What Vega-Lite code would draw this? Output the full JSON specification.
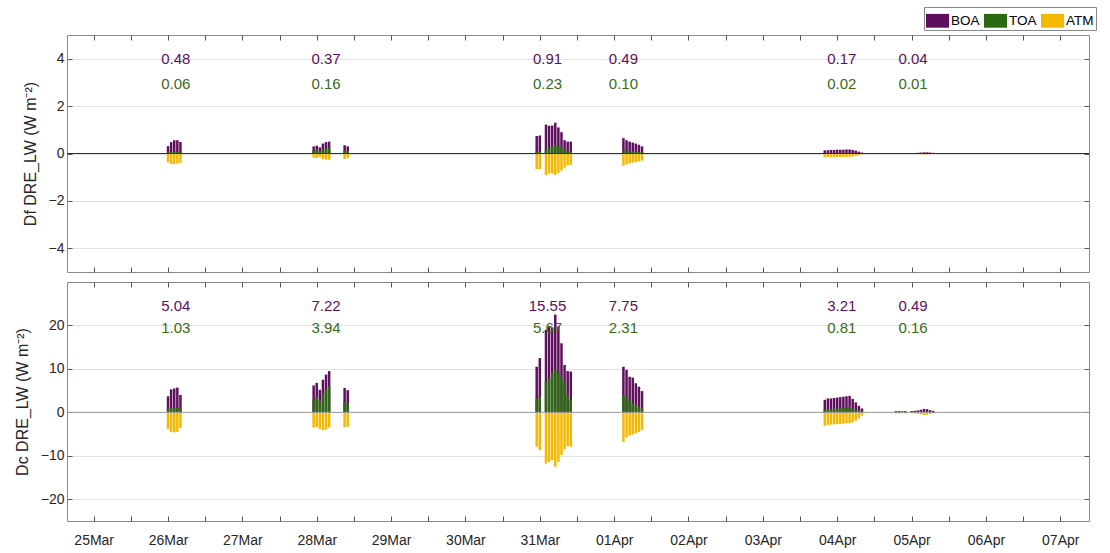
{
"$schema": "https://vega.github.io/schema/vega-lite/v6.json",
"padding": {"left": 13, "top": 6, "right": 2, "bottom": 4},
"background": "white",
"spacing": 8,
"config": {
  "font": "Liberation Sans",
  "view": {"stroke": "#8a8a8a", "strokeWidth": 1},
  "axis": {"domain": false, "labelFontSize": 14, "labelColor": "#262626", "tickColor": "#555", "gridColor": "#e3e3e3", "titleFontWeight": "normal", "titleFontSize": 16, "titleColor": "#262626"}
},
"datasets": {
  "bars": [
    {"p":"Df","t":"2021-03-26T00:00:00Z","BOA":0.31,"TOA":0.05,"ATM":-0.37},
    {"p":"Df","t":"2021-03-26T01:00:00Z","BOA":0.48,"TOA":0.06,"ATM":-0.44},
    {"p":"Df","t":"2021-03-26T02:00:00Z","BOA":0.56,"TOA":0.07,"ATM":-0.45},
    {"p":"Df","t":"2021-03-26T03:00:00Z","BOA":0.56,"TOA":0.07,"ATM":-0.43},
    {"p":"Df","t":"2021-03-26T04:00:00Z","BOA":0.49,"TOA":0.06,"ATM":-0.39},
    {"p":"Df","t":"2021-03-27T23:00:00Z","BOA":0.30,"TOA":0.12,"ATM":-0.18},
    {"p":"Df","t":"2021-03-28T00:00:00Z","BOA":0.33,"TOA":0.14,"ATM":-0.19},
    {"p":"Df","t":"2021-03-28T01:00:00Z","BOA":0.26,"TOA":0.10,"ATM":-0.16},
    {"p":"Df","t":"2021-03-28T02:00:00Z","BOA":0.42,"TOA":0.18,"ATM":-0.24},
    {"p":"Df","t":"2021-03-28T03:00:00Z","BOA":0.48,"TOA":0.22,"ATM":-0.26},
    {"p":"Df","t":"2021-03-28T04:00:00Z","BOA":0.50,"TOA":0.24,"ATM":-0.26},
    {"p":"Df","t":"2021-03-28T09:00:00Z","BOA":0.35,"TOA":0.12,"ATM":-0.23},
    {"p":"Df","t":"2021-03-28T10:00:00Z","BOA":0.30,"TOA":0.10,"ATM":-0.20},
    {"p":"Df","t":"2021-03-30T23:00:00Z","BOA":0.74,"TOA":0.08,"ATM":-0.66},
    {"p":"Df","t":"2021-03-31T00:00:00Z","BOA":0.76,"TOA":0.10,"ATM":-0.66},
    {"p":"Df","t":"2021-03-31T02:00:00Z","BOA":1.22,"TOA":0.18,"ATM":-0.92},
    {"p":"Df","t":"2021-03-31T03:00:00Z","BOA":1.17,"TOA":0.24,"ATM":-0.85},
    {"p":"Df","t":"2021-03-31T04:00:00Z","BOA":1.18,"TOA":0.30,"ATM":-0.84},
    {"p":"Df","t":"2021-03-31T05:00:00Z","BOA":1.30,"TOA":0.36,"ATM":-0.90},
    {"p":"Df","t":"2021-03-31T06:00:00Z","BOA":1.10,"TOA":0.32,"ATM":-0.82},
    {"p":"Df","t":"2021-03-31T07:00:00Z","BOA":0.90,"TOA":0.24,"ATM":-0.72},
    {"p":"Df","t":"2021-03-31T08:00:00Z","BOA":0.56,"TOA":0.16,"ATM":-0.60},
    {"p":"Df","t":"2021-03-31T09:00:00Z","BOA":0.50,"TOA":0.10,"ATM":-0.50},
    {"p":"Df","t":"2021-03-31T10:00:00Z","BOA":0.50,"TOA":0.08,"ATM":-0.48},
    {"p":"Df","t":"2021-04-01T03:00:00Z","BOA":0.65,"TOA":0.13,"ATM":-0.52},
    {"p":"Df","t":"2021-04-01T04:00:00Z","BOA":0.56,"TOA":0.11,"ATM":-0.45},
    {"p":"Df","t":"2021-04-01T05:00:00Z","BOA":0.50,"TOA":0.10,"ATM":-0.42},
    {"p":"Df","t":"2021-04-01T06:00:00Z","BOA":0.46,"TOA":0.09,"ATM":-0.39},
    {"p":"Df","t":"2021-04-01T07:00:00Z","BOA":0.42,"TOA":0.08,"ATM":-0.37},
    {"p":"Df","t":"2021-04-01T08:00:00Z","BOA":0.37,"TOA":0.07,"ATM":-0.33},
    {"p":"Df","t":"2021-04-01T09:00:00Z","BOA":0.30,"TOA":0.05,"ATM":-0.30},
    {"p":"Df","t":"2021-04-03T20:00:00Z","BOA":0.13,"TOA":0.02,"ATM":-0.16},
    {"p":"Df","t":"2021-04-03T21:00:00Z","BOA":0.14,"TOA":0.02,"ATM":-0.15},
    {"p":"Df","t":"2021-04-03T22:00:00Z","BOA":0.15,"TOA":0.02,"ATM":-0.15},
    {"p":"Df","t":"2021-04-03T23:00:00Z","BOA":0.15,"TOA":0.02,"ATM":-0.15},
    {"p":"Df","t":"2021-04-04T00:00:00Z","BOA":0.16,"TOA":0.02,"ATM":-0.15},
    {"p":"Df","t":"2021-04-04T01:00:00Z","BOA":0.16,"TOA":0.02,"ATM":-0.15},
    {"p":"Df","t":"2021-04-04T02:00:00Z","BOA":0.16,"TOA":0.03,"ATM":-0.15},
    {"p":"Df","t":"2021-04-04T03:00:00Z","BOA":0.17,"TOA":0.03,"ATM":-0.15},
    {"p":"Df","t":"2021-04-04T04:00:00Z","BOA":0.17,"TOA":0.03,"ATM":-0.14},
    {"p":"Df","t":"2021-04-04T05:00:00Z","BOA":0.15,"TOA":0.02,"ATM":-0.13},
    {"p":"Df","t":"2021-04-04T06:00:00Z","BOA":0.12,"TOA":0.02,"ATM":-0.10},
    {"p":"Df","t":"2021-04-04T07:00:00Z","BOA":0.08,"TOA":0.01,"ATM":-0.07},
    {"p":"Df","t":"2021-04-04T08:00:00Z","BOA":0.04,"TOA":0.01,"ATM":-0.03},
    {"p":"Df","t":"2021-04-04T19:00:00Z","BOA":0.01,"TOA":0.0,"ATM":-0.01},
    {"p":"Df","t":"2021-04-04T20:00:00Z","BOA":0.01,"TOA":0.0,"ATM":-0.01},
    {"p":"Df","t":"2021-04-04T21:00:00Z","BOA":0.01,"TOA":0.0,"ATM":-0.01},
    {"p":"Df","t":"2021-04-04T22:00:00Z","BOA":0.01,"TOA":0.0,"ATM":-0.01},
    {"p":"Df","t":"2021-04-05T00:00:00Z","BOA":0.02,"TOA":0.005,"ATM":-0.015},
    {"p":"Df","t":"2021-04-05T01:00:00Z","BOA":0.02,"TOA":0.005,"ATM":-0.02},
    {"p":"Df","t":"2021-04-05T02:00:00Z","BOA":0.03,"TOA":0.01,"ATM":-0.025},
    {"p":"Df","t":"2021-04-05T03:00:00Z","BOA":0.04,"TOA":0.01,"ATM":-0.03},
    {"p":"Df","t":"2021-04-05T04:00:00Z","BOA":0.05,"TOA":0.01,"ATM":-0.04},
    {"p":"Df","t":"2021-04-05T05:00:00Z","BOA":0.05,"TOA":0.01,"ATM":-0.04},
    {"p":"Df","t":"2021-04-05T06:00:00Z","BOA":0.04,"TOA":0.01,"ATM":-0.03},
    {"p":"Df","t":"2021-04-05T07:00:00Z","BOA":0.03,"TOA":0.005,"ATM":-0.02},
    {"p":"Dc","t":"2021-03-26T00:00:00Z","BOA":3.7,"TOA":0.8,"ATM":-3.8},
    {"p":"Dc","t":"2021-03-26T01:00:00Z","BOA":5.3,"TOA":1.1,"ATM":-4.5},
    {"p":"Dc","t":"2021-03-26T02:00:00Z","BOA":5.5,"TOA":1.2,"ATM":-4.6},
    {"p":"Dc","t":"2021-03-26T03:00:00Z","BOA":5.7,"TOA":1.2,"ATM":-4.5},
    {"p":"Dc","t":"2021-03-26T04:00:00Z","BOA":4.0,"TOA":0.9,"ATM":-3.6},
    {"p":"Dc","t":"2021-03-27T23:00:00Z","BOA":6.2,"TOA":3.0,"ATM":-3.5},
    {"p":"Dc","t":"2021-03-28T00:00:00Z","BOA":6.8,"TOA":3.5,"ATM":-3.4},
    {"p":"Dc","t":"2021-03-28T01:00:00Z","BOA":5.2,"TOA":2.6,"ATM":-3.8},
    {"p":"Dc","t":"2021-03-28T02:00:00Z","BOA":7.5,"TOA":4.3,"ATM":-4.1},
    {"p":"Dc","t":"2021-03-28T03:00:00Z","BOA":8.7,"TOA":5.2,"ATM":-4.0},
    {"p":"Dc","t":"2021-03-28T04:00:00Z","BOA":9.5,"TOA":6.0,"ATM":-3.5},
    {"p":"Dc","t":"2021-03-28T09:00:00Z","BOA":5.6,"TOA":2.4,"ATM":-3.4},
    {"p":"Dc","t":"2021-03-28T10:00:00Z","BOA":5.1,"TOA":2.0,"ATM":-3.3},
    {"p":"Dc","t":"2021-03-30T23:00:00Z","BOA":10.5,"TOA":3.2,"ATM":-7.9},
    {"p":"Dc","t":"2021-03-31T00:00:00Z","BOA":12.5,"TOA":3.6,"ATM":-8.7},
    {"p":"Dc","t":"2021-03-31T02:00:00Z","BOA":19.0,"TOA":7.0,"ATM":-11.8},
    {"p":"Dc","t":"2021-03-31T03:00:00Z","BOA":19.8,"TOA":7.8,"ATM":-11.4},
    {"p":"Dc","t":"2021-03-31T04:00:00Z","BOA":19.5,"TOA":9.0,"ATM":-11.0},
    {"p":"Dc","t":"2021-03-31T05:00:00Z","BOA":22.5,"TOA":9.8,"ATM":-12.5},
    {"p":"Dc","t":"2021-03-31T06:00:00Z","BOA":19.8,"TOA":9.4,"ATM":-11.4},
    {"p":"Dc","t":"2021-03-31T07:00:00Z","BOA":15.9,"TOA":8.2,"ATM":-9.8},
    {"p":"Dc","t":"2021-03-31T08:00:00Z","BOA":10.9,"TOA":7.0,"ATM":-8.5},
    {"p":"Dc","t":"2021-03-31T09:00:00Z","BOA":9.5,"TOA":4.0,"ATM":-7.8},
    {"p":"Dc","t":"2021-03-31T10:00:00Z","BOA":9.4,"TOA":2.8,"ATM":-7.9},
    {"p":"Dc","t":"2021-04-01T03:00:00Z","BOA":10.5,"TOA":4.0,"ATM":-6.8},
    {"p":"Dc","t":"2021-04-01T04:00:00Z","BOA":9.8,"TOA":3.6,"ATM":-5.8},
    {"p":"Dc","t":"2021-04-01T05:00:00Z","BOA":8.2,"TOA":2.8,"ATM":-5.3},
    {"p":"Dc","t":"2021-04-01T06:00:00Z","BOA":8.0,"TOA":2.1,"ATM":-5.1},
    {"p":"Dc","t":"2021-04-01T07:00:00Z","BOA":6.7,"TOA":1.7,"ATM":-4.8},
    {"p":"Dc","t":"2021-04-01T08:00:00Z","BOA":5.9,"TOA":1.3,"ATM":-4.5},
    {"p":"Dc","t":"2021-04-01T09:00:00Z","BOA":4.9,"TOA":0.9,"ATM":-4.1},
    {"p":"Dc","t":"2021-04-03T20:00:00Z","BOA":2.9,"TOA":0.6,"ATM":-3.1},
    {"p":"Dc","t":"2021-04-03T21:00:00Z","BOA":3.2,"TOA":0.8,"ATM":-2.9},
    {"p":"Dc","t":"2021-04-03T22:00:00Z","BOA":3.2,"TOA":0.8,"ATM":-2.8},
    {"p":"Dc","t":"2021-04-03T23:00:00Z","BOA":3.3,"TOA":0.9,"ATM":-2.8},
    {"p":"Dc","t":"2021-04-04T00:00:00Z","BOA":3.4,"TOA":0.9,"ATM":-2.7},
    {"p":"Dc","t":"2021-04-04T01:00:00Z","BOA":3.5,"TOA":1.0,"ATM":-2.7},
    {"p":"Dc","t":"2021-04-04T02:00:00Z","BOA":3.6,"TOA":1.1,"ATM":-2.6},
    {"p":"Dc","t":"2021-04-04T03:00:00Z","BOA":3.7,"TOA":1.1,"ATM":-2.5},
    {"p":"Dc","t":"2021-04-04T04:00:00Z","BOA":3.8,"TOA":1.1,"ATM":-2.5},
    {"p":"Dc","t":"2021-04-04T05:00:00Z","BOA":3.1,"TOA":0.9,"ATM":-2.3},
    {"p":"Dc","t":"2021-04-04T06:00:00Z","BOA":2.3,"TOA":0.6,"ATM":-1.9},
    {"p":"Dc","t":"2021-04-04T07:00:00Z","BOA":1.5,"TOA":0.4,"ATM":-1.4},
    {"p":"Dc","t":"2021-04-04T08:00:00Z","BOA":0.9,"TOA":0.15,"ATM":-0.8},
    {"p":"Dc","t":"2021-04-04T19:00:00Z","BOA":0.3,"TOA":0.05,"ATM":-0.25},
    {"p":"Dc","t":"2021-04-04T20:00:00Z","BOA":0.3,"TOA":0.05,"ATM":-0.25},
    {"p":"Dc","t":"2021-04-04T21:00:00Z","BOA":0.25,"TOA":0.05,"ATM":-0.2},
    {"p":"Dc","t":"2021-04-04T22:00:00Z","BOA":0.3,"TOA":0.05,"ATM":-0.25},
    {"p":"Dc","t":"2021-04-05T00:00:00Z","BOA":0.3,"TOA":0.08,"ATM":-0.22},
    {"p":"Dc","t":"2021-04-05T01:00:00Z","BOA":0.35,"TOA":0.1,"ATM":-0.25},
    {"p":"Dc","t":"2021-04-05T02:00:00Z","BOA":0.45,"TOA":0.12,"ATM":-0.33},
    {"p":"Dc","t":"2021-04-05T03:00:00Z","BOA":0.6,"TOA":0.15,"ATM":-0.45},
    {"p":"Dc","t":"2021-04-05T04:00:00Z","BOA":0.8,"TOA":0.2,"ATM":-0.6},
    {"p":"Dc","t":"2021-04-05T05:00:00Z","BOA":0.75,"TOA":0.18,"ATM":-0.57},
    {"p":"Dc","t":"2021-04-05T06:00:00Z","BOA":0.5,"TOA":0.12,"ATM":-0.38},
    {"p":"Dc","t":"2021-04-05T07:00:00Z","BOA":0.35,"TOA":0.08,"ATM":-0.27}
  ],
  "labels": [
    {"p":"Df","t":"2021-03-26T02:30:00Z","boa":"0.48","toa":"0.06"},
    {"p":"Df","t":"2021-03-28T03:00:00Z","boa":"0.37","toa":"0.16"},
    {"p":"Df","t":"2021-03-31T02:30:00Z","boa":"0.91","toa":"0.23"},
    {"p":"Df","t":"2021-04-01T03:00:00Z","boa":"0.49","toa":"0.10"},
    {"p":"Df","t":"2021-04-04T01:30:00Z","boa":"0.17","toa":"0.02"},
    {"p":"Df","t":"2021-04-05T00:30:00Z","boa":"0.04","toa":"0.01"},
    {"p":"Dc","t":"2021-03-26T02:30:00Z","boa":"5.04","toa":"1.03"},
    {"p":"Dc","t":"2021-03-28T03:00:00Z","boa":"7.22","toa":"3.94"},
    {"p":"Dc","t":"2021-03-31T02:30:00Z","boa":"15.55","toa":"5.67"},
    {"p":"Dc","t":"2021-04-01T03:00:00Z","boa":"7.75","toa":"2.31"},
    {"p":"Dc","t":"2021-04-04T01:30:00Z","boa":"3.21","toa":"0.81"},
    {"p":"Dc","t":"2021-04-05T00:30:00Z","boa":"0.49","toa":"0.16"}
  ],
  "zero": [{"v": 0}]
},
"vconcat": [
  {
    "width": 1022, "height": 237,
    "resolve": {"axis": {"x": "independent", "y": "independent"}},
    "layer": [
      {"data": {"name": "bars"}, "transform": [{"filter": "datum.p === 'Df'"}],
       "mark": {"type": "bar", "width": 2.5},
       "encoding": {
         "x": {"field": "t", "type": "temporal", "scale": {"type": "utc", "domain": [{"year": 2021, "month": "mar", "date": 24, "hours": 17, "utc": true}, {"year": 2021, "month": "apr", "date": 7, "hours": 7, "minutes": 40, "utc": true}]},
               "axis": {"labels": false, "title": null, "grid": false, "tickCount": 28, "tickSize": -5}},
         "y": {"field": "BOA", "type": "quantitative", "scale": {"domain": [-5, 5], "nice": false},
               "axis": {"title": "Df DRE_LW (W m⁻²)", "values": [-4,-2,0,2,4], "tickSize": -5, "labelPadding": 8, "titlePadding": 10}},
         "color": {"datum": "BOA", "type": "nominal", "scale": {"domain": ["BOA", "TOA", "ATM"], "range": ["#5E0F5E", "#2C6A12", "#F5B800"]},
                   "legend": {"orient": "none", "legendX": 857, "legendY": -28, "direction": "horizontal", "title": null,
                              "symbolType": "M-1,-0.6H1V0.6H-1Z", "symbolSize": 529, "symbolStrokeWidth": 0,
                              "labelFontSize": 13.5, "labelColor": "#000", "strokeColor": "#888", "fillColor": "white",
                              "padding": 2, "columnPadding": 4, "labelOffset": 2}}
       }},
      {"data": {"name": "bars"}, "transform": [{"filter": "datum.p === 'Df'"}],
       "mark": {"type": "bar", "width": 2.5},
       "encoding": {"x": {"field": "t", "type": "temporal", "axis": {"orient": "top", "labels": false, "title": null, "grid": false, "tickCount": 28, "tickSize": -5}},
                    "y": {"field": "TOA", "type": "quantitative", "axis": {"orient": "right", "labels": false, "title": null, "grid": false, "values": [-4,-2,0,2,4], "tickSize": -5}},
                    "color": {"datum": "TOA", "type": "nominal"}}},
      {"data": {"name": "bars"}, "transform": [{"filter": "datum.p === 'Df'"}],
       "mark": {"type": "bar", "width": 2.5},
       "encoding": {"x": {"field": "t", "type": "temporal", "axis": null}, "y": {"field": "ATM", "type": "quantitative", "axis": null}, "color": {"datum": "ATM", "type": "nominal"}}},
      {"data": {"name": "zero"}, "mark": {"type": "rule", "color": "#303030", "strokeWidth": 1}, "encoding": {"y": {"field": "v", "type": "quantitative", "axis": null}}},
      {"data": {"name": "labels"}, "transform": [{"filter": "datum.p === 'Df'"}],
       "mark": {"type": "text", "fontSize": 15, "color": "#5E0F5E"},
       "encoding": {"x": {"field": "t", "type": "temporal", "axis": null}, "y": {"datum": 4, "axis": null}, "text": {"field": "boa"}}},
      {"data": {"name": "labels"}, "transform": [{"filter": "datum.p === 'Df'"}],
       "mark": {"type": "text", "fontSize": 15, "color": "#3B6A18"},
       "encoding": {"x": {"field": "t", "type": "temporal", "axis": null}, "y": {"datum": 2.95, "axis": null}, "text": {"field": "toa"}}}
    ]
  },
  {
    "width": 1022, "height": 239,
    "resolve": {"axis": {"x": "independent", "y": "independent"}},
    "layer": [
      {"data": {"name": "bars"}, "transform": [{"filter": "datum.p === 'Dc'"}],
       "mark": {"type": "bar", "width": 2.5},
       "encoding": {
         "x": {"field": "t", "type": "temporal", "scale": {"type": "utc", "domain": [{"year": 2021, "month": "mar", "date": 24, "hours": 17, "utc": true}, {"year": 2021, "month": "apr", "date": 7, "hours": 7, "minutes": 40, "utc": true}]},
               "axis": {"title": null, "grid": false, "tickCount": 28, "tickSize": -5, "labelPadding": 17, "labelOverlap": false, "labelFlush": false,
                        "labelExpr": "utchours(datum.value) === 0 ? utcFormat(datum.value, '%d%b') : ''"}},
         "y": {"field": "BOA", "type": "quantitative", "scale": {"domain": [-25, 30], "nice": false},
               "axis": {"title": "Dc DRE_LW (W m⁻²)", "values": [-20,-10,0,10,20], "tickSize": -5, "labelPadding": 8, "titlePadding": 10}},
         "color": {"datum": "BOA", "type": "nominal"}
       }},
      {"data": {"name": "bars"}, "transform": [{"filter": "datum.p === 'Dc'"}],
       "mark": {"type": "bar", "width": 2.5},
       "encoding": {"x": {"field": "t", "type": "temporal", "axis": {"orient": "top", "labels": false, "title": null, "grid": false, "tickCount": 28, "tickSize": -5}},
                    "y": {"field": "TOA", "type": "quantitative", "axis": {"orient": "right", "labels": false, "title": null, "grid": false, "values": [-20,-10,0,10,20], "tickSize": -5}},
                    "color": {"datum": "TOA", "type": "nominal"}}},
      {"data": {"name": "bars"}, "transform": [{"filter": "datum.p === 'Dc'"}],
       "mark": {"type": "bar", "width": 2.5},
       "encoding": {"x": {"field": "t", "type": "temporal", "axis": null}, "y": {"field": "ATM", "type": "quantitative", "axis": null}, "color": {"datum": "ATM", "type": "nominal"}}},
      {"data": {"name": "zero"}, "mark": {"type": "rule", "color": "#9a9a9a", "strokeWidth": 1}, "encoding": {"y": {"field": "v", "type": "quantitative", "axis": null}}},
      {"data": {"name": "labels"}, "transform": [{"filter": "datum.p === 'Dc'"}],
       "mark": {"type": "text", "fontSize": 15, "color": "#5E0F5E"},
       "encoding": {"x": {"field": "t", "type": "temporal", "axis": null}, "y": {"datum": 24.5, "axis": null}, "text": {"field": "boa"}}},
      {"data": {"name": "labels"}, "transform": [{"filter": "datum.p === 'Dc'"}],
       "mark": {"type": "text", "fontSize": 15, "color": "#3B6A18"},
       "encoding": {"x": {"field": "t", "type": "temporal", "axis": null}, "y": {"datum": 19.4, "axis": null}, "text": {"field": "toa"}}}
    ]
  }
]
}
